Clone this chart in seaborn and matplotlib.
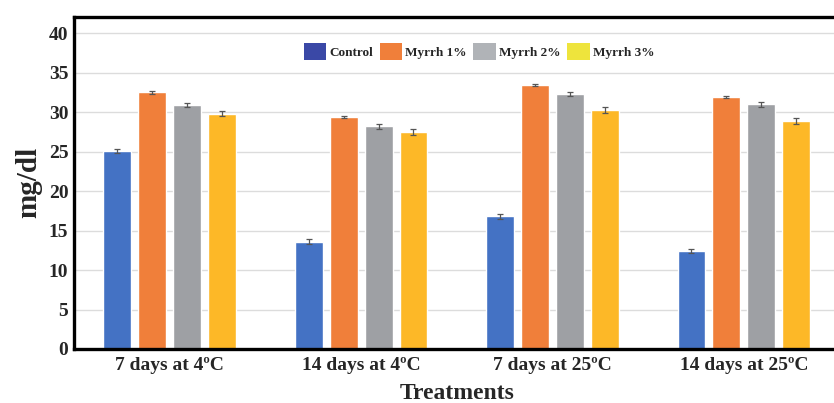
import pandas as pd
import numpy as np
import matplotlib.pyplot as plt
import seaborn as sns
from matplotlib.patches import Patch

# data
treatments = ['7 days at 4ºC', '14 days at 4ºC', '7 days at 25ºC', '14 days at 25ºC']
groups = ['Control', 'Myrrh 1%', 'Myrrh 2%', 'Myrrh 3%']
control = [25.1, 13.6, 16.8, 12.4]
myrrh1 = [32.5, 29.4, 33.4, 31.9]
myrrh2 = [30.9, 28.2, 32.3, 31.0]
myrrh3 = [29.8, 27.5, 30.3, 28.9]
control_sd = [0.25, 0.35, 0.3, 0.3]
myrrh1_sd = [0.15, 0.15, 0.15, 0.15]
myrrh2_sd = [0.3, 0.3, 0.3, 0.3]
myrrh3_sd = [0.35, 0.4, 0.4, 0.35]

bar_colors = ['#4472C4', '#F07F3A', '#9EA0A4', '#FDB827']
legend_colors = ['#3A48A6', '#F07F3A', '#B0B3B7', '#EEE43C']

sns.set_style('white')
plt.rcParams['font.family'] = ['Liberation Serif', 'DejaVu Serif']
plt.rcParams['font.weight'] = 'bold'

df = pd.DataFrame({
    'Treatment': treatments * 4,
    'Group': np.repeat(groups, 4),
    'Value': control + myrrh1 + myrrh2 + myrrh3,
})
sds = [control_sd, myrrh1_sd, myrrh2_sd, myrrh3_sd]

fig = plt.figure(figsize=(8.34, 4.03), dpi=100)
ax = fig.add_axes([0.0887, 0.134, 0.918, 0.825])

sns.barplot(data=df, x='Treatment', y='Value', hue='Group', palette=bar_colors,
            saturation=1, width=0.73, gap=0.2, errorbar=None, legend=False,
            ax=ax, zorder=2)

# error bars on top of each bar
for cont, sd in zip(ax.containers, sds):
    xs = [p.get_x() + p.get_width() / 2 for p in cont]
    hs = [p.get_height() for p in cont]
    ax.errorbar(xs, hs, yerr=sd, fmt='none', ecolor='#555555', elinewidth=0.9,
                capsize=2.5, capthick=0.9, zorder=3)

ax.set_xlim(-0.5, 3.5)
ax.set_ylim(0, 42.1)
ax.set_yticks(range(0, 45, 5))
ax.yaxis.grid(True, color='#dcdcdc', lw=1)
ax.set_axisbelow(True)

for s in ['left', 'top', 'bottom']:
    ax.spines[s].set_color('black')
    ax.spines[s].set_linewidth(2.4)
ax.spines['right'].set_visible(False)

ax.tick_params(axis='both', length=0, labelsize=14)
ax.tick_params(axis='y', pad=4)
ax.tick_params(axis='x', pad=6)
for lab in ax.get_xticklabels() + ax.get_yticklabels():
    lab.set_fontweight('bold')

ax.set_ylabel('mg/dl', fontsize=21, fontweight='bold', labelpad=5)
ax.set_xlabel('Treatments', fontsize=17, fontweight='bold', labelpad=6)

handles = [Patch(facecolor=c, edgecolor='none') for c in legend_colors]
ax.legend(handles, groups, loc='upper center', bbox_to_anchor=(0.529, 0.955), ncol=4,
          frameon=False, prop={'family': 'Liberation Serif', 'weight': 'bold', 'size': 9.5},
          handlelength=1.7, handleheight=1.6, handletextpad=0.25, columnspacing=0.5)

plt.savefig('out.png', dpi=100)
